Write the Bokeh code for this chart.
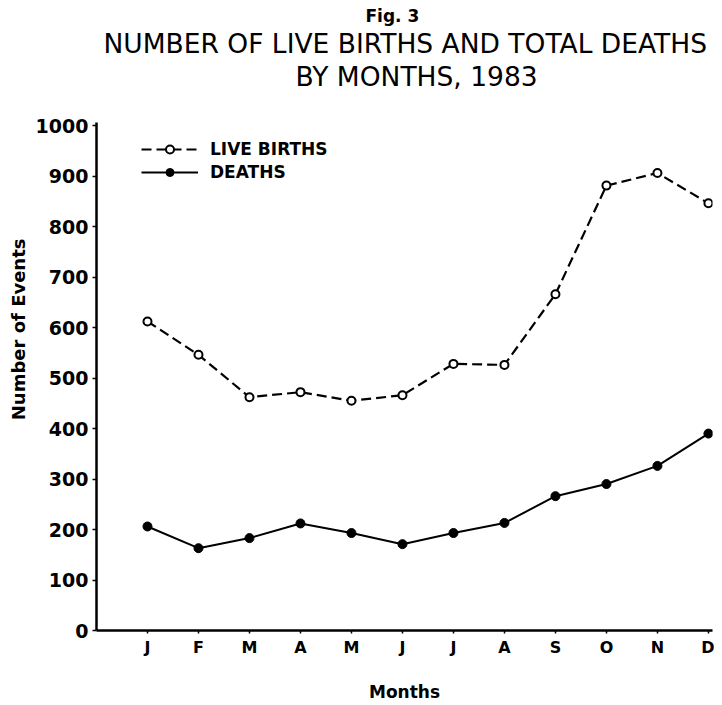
from bokeh.plotting import figure
from bokeh.models import Range1d, FixedTicker, Title, Legend, LegendItem, ColumnDataSource
from bokeh.embed import file_html
from bokeh.resources import INLINE

# ---- data ----
months = ["J", "F", "M", "A", "M", "J", "J", "A", "S", "O", "N", "D"]
month_index = [1, 2, 3, 4, 5, 6, 7, 8, 9, 10, 11, 12]
live_births = [612, 546, 462, 472, 455, 466, 528, 526, 666, 881, 906, 846]
deaths = [206, 163, 183, 212, 193, 171, 193, 213, 266, 290, 326, 390]
y_ticks = [0, 100, 200, 300, 400, 500, 600, 700, 800, 900, 1000]

FONT = "DejaVu Sans"

src = ColumnDataSource(dict(x=month_index, births=live_births, deaths=deaths))

p = figure(width=714, height=705, output_backend="svg", toolbar_location=None,
           title=None,
           x_range=Range1d(0, 12.08), y_range=Range1d(0, 1006),
           min_border_left=96, min_border_right=2, min_border_top=122,
           min_border_bottom=75)
p.outline_line_color = None
p.grid.grid_line_color = None
p.background_fill_color = "white"
p.border_fill_color = "white"

# series
b_line = p.line("x", "births", source=src, line_color="black", line_width=2.2,
                line_dash="10 5")
b_pts = p.scatter("x", "births", source=src, marker="circle", size=8,
                  fill_color="white", line_color="black", line_width=2)
d_line = p.line("x", "deaths", source=src, line_color="black", line_width=2)
d_pts = p.scatter("x", "deaths", source=src, marker="circle", size=9,
                  fill_color="black", line_color="black")

# axes
xa = p.xaxis[0]
xa.ticker = FixedTicker(ticks=month_index)
xa.major_label_overrides = {i: m for i, m in zip(month_index, months)}
xa.minor_tick_line_color = None
xa.major_tick_in = 0
xa.major_tick_out = 3
xa.major_tick_line_width = 1.5
xa.axis_line_width = 2.5
xa.major_label_standoff = 4
xa.major_label_text_font = FONT
xa.major_label_text_font_style = "bold"
xa.major_label_text_font_size = "16px"
xa.major_label_text_color = "black"
xa.axis_label = "Months"
xa.axis_label_text_font = FONT
xa.axis_label_text_font_style = "bold"
xa.axis_label_text_font_size = "17px"
xa.axis_label_text_color = "black"
xa.axis_label_standoff = 22

ya = p.yaxis[0]
ya.ticker = FixedTicker(ticks=y_ticks)
ya.minor_tick_line_color = None
ya.major_tick_in = 0
ya.major_tick_out = 4
ya.major_tick_line_width = 1.5
ya.axis_line_width = 2.5
ya.major_label_standoff = 4
ya.major_label_text_font = FONT
ya.major_label_text_font_style = "bold"
ya.major_label_text_font_size = "19px"
ya.major_label_text_color = "black"

# y-axis title (positioned to match the reference)
p.add_layout(Title(text="Number of Events", align="right", offset=116,
                   vertical_align="top",
                   text_font=FONT, text_font_style="bold", text_color="black",
                   text_font_size="18px", standoff=4), "left")

# titles (first added is closest to the plot)
p.add_layout(Title(text=" ", text_font_size="1px", standoff=28), "above")  # gap
p.add_layout(Title(text="BY MONTHS, 1983", align="left", offset=199,
                   text_font=FONT, text_font_style="normal", text_color="black",
                   text_font_size="26.5px", standoff=0), "above")
p.add_layout(Title(text="NUMBER OF LIVE BIRTHS AND TOTAL DEATHS", align="left",
                   offset=7, text_font=FONT, text_font_style="normal",
                   text_color="black", text_font_size="26.5px", standoff=0),
             "above")
p.add_layout(Title(text="Fig. 3", align="left", offset=269,
                   text_font=FONT, text_font_style="bold", text_color="black",
                   text_font_size="17px", standoff=0), "above")

legend = Legend(items=[
    LegendItem(label="LIVE BIRTHS", renderers=[b_line, b_pts]),
    LegendItem(label="DEATHS", renderers=[d_line, d_pts]),
], location=(45, 448))
legend.border_line_color = None
legend.background_fill_alpha = 0
legend.padding = 0
legend.margin = 0
legend.spacing = 3
legend.glyph_width = 57
legend.glyph_height = 20
legend.label_height = 20
legend.label_standoff = 12
legend.label_text_font = FONT
legend.label_text_font_style = "bold"
legend.label_text_font_size = "17px"
legend.label_text_color = "black"
p.add_layout(legend)

open("out.html", "w").write(file_html(p, INLINE))
